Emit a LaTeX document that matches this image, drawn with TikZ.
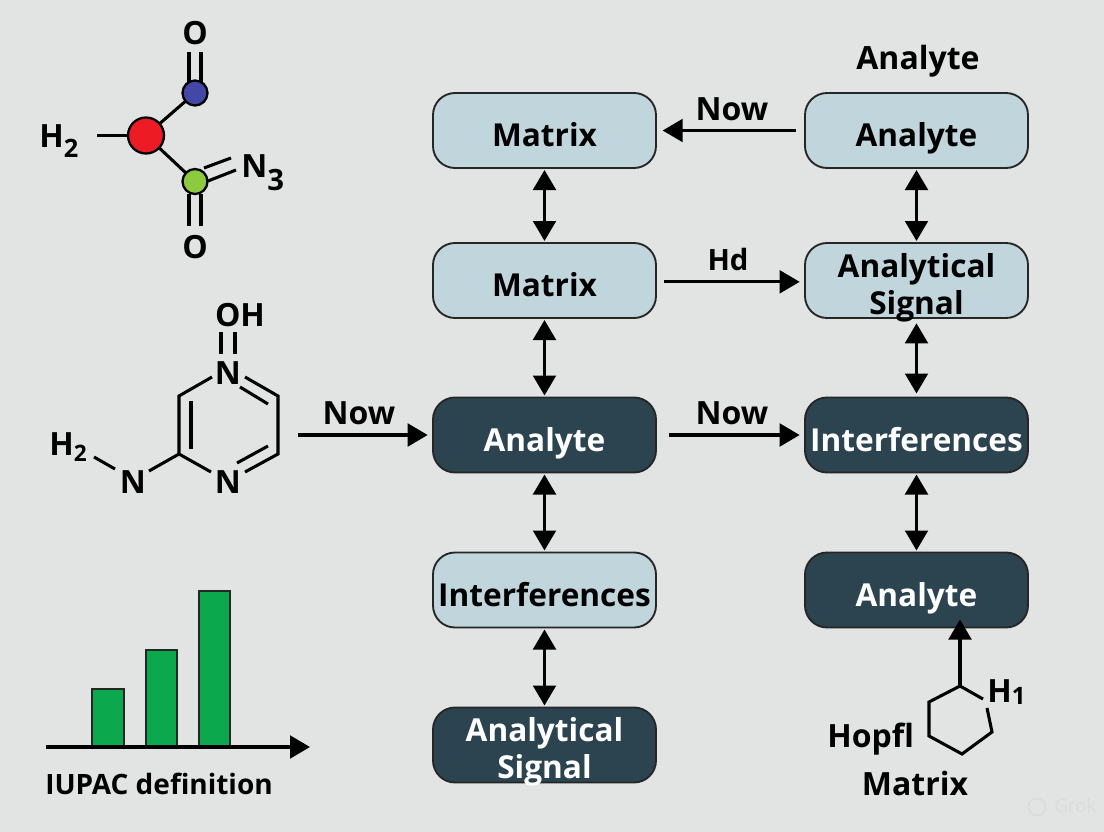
\documentclass[tikz,border=0pt]{standalone}
\usepackage{fontspec}
\setmainfont{Open Sans}[BoldFont={Open Sans Bold}]
\usetikzlibrary{arrows.meta}
\definecolor{bg}{HTML}{E2E4E4}
\definecolor{lightbox}{HTML}{C0D5DC}
\definecolor{darkbox}{HTML}{2B4450}
\definecolor{barg}{HTML}{0CA84E}
\definecolor{atomred}{HTML}{ED1C24}
\definecolor{atomblue}{HTML}{4347A8}
\definecolor{atomgreen}{HTML}{8CCB3E}
\newcommand{\lowline}[1]{\raisebox{-12.2pt}[0pt][0pt]{#1}}
\newcommand{\lowtwo}[2]{\raisebox{2.6pt}[0pt][0pt]{\begin{tabular}[t]{@{}c@{}}#1\\#2\end{tabular}}}
\newcommand{\subdigit}[3]{\raisebox{-#2pt}{\fontsize{#1}{#1}\selectfont #3}}
\tikzset{
 flow/.style={minimum width=167.25pt,minimum height=56.25pt,inner sep=0pt,outer sep=0pt,rounded corners=16.5pt,draw=black!85,line width=1.4pt,font=\fontsize{23.7}{28}\selectfont\bfseries,align=center},
 lightflow/.style={flow,fill=lightbox,text=black},
 darkflow/.style={flow,fill=darkbox,text=white},
 txt/.style={font=\fontsize{24}{28}\selectfont\bfseries,inner sep=0pt,text=black},
 conn/.style={line width=2.4pt,draw=black,-{Triangle[length=15pt,width=17pt]}},
 biconn/.style={line width=2.4pt,draw=black,{Triangle[length=15pt,width=17pt]}-{Triangle[length=15pt,width=17pt]}},
 bond/.style={line width=2.3pt,draw=black},
 atom/.style={circle,draw=black,line width=1.7pt,inner sep=0pt,outer sep=0pt},
 barbox/.style={draw=black!85,fill=barg,line width=1.8pt},
}
\begin{document}
\begin{tikzpicture}[x=0.75pt,y=-0.75pt]
\useasboundingbox (0,0) rectangle (1104,832);
\fill[bg] (0,0) rectangle (1104,832);

% flow boxes
\node[lightflow] (m1) at (544.5,130.5) {\lowline{Matrix}};
\node[lightflow] (m2) at (544.5,280.5) {\lowline{Matrix}};
\node[darkflow]  (m3) at (544.5,435) {\lowline{Analyte}};
\node[lightflow] (m4) at (544.5,590) {\lowline{Interferences}};
\node[darkflow]  (m5) at (544.5,745) {\lowtwo{Analytical}{Signal}};
\node[lightflow] (r1) at (916.5,130.5) {\lowline{Analyte}};
\node[lightflow] (r2) at (916.5,280.5) {\lowtwo{Analytical}{Signal}};
\node[darkflow]  (r3) at (916.5,435) {\lowline{Interferences}};
\node[darkflow]  (r4) at (916.5,590) {\lowline{Analyte}};
\node[txt,anchor=base] (toplabel) at (918,69) {Analyte};

% vertical links
\draw[biconn,shorten <=1.5pt,shorten >=1.5pt] (m1) -- (m2);
\draw[biconn,shorten <=1.5pt,shorten >=1.5pt] (m2) -- (m3);
\draw[biconn,shorten <=1.5pt,shorten >=1.5pt] (m3) -- (m4);
\draw[biconn,shorten <=1.5pt,shorten >=1.5pt] (m4) -- (m5);
\draw[biconn,shorten <=1.5pt,shorten >=1.5pt] (r1) -- (r2);
\draw[biconn,shorten <=4pt,shorten >=3pt] (r2) -- (r3);
\draw[biconn,shorten <=1.5pt,shorten >=1.5pt] (r3) -- (r4);

% horizontal links
\draw[conn,shorten <=7pt,shorten >=5pt] (r1) -- (m1);
\draw[conn,shorten <=6pt,shorten >=4pt] ([yshift=-1pt]m2.east) -- ([yshift=-1pt]r2.west);
\draw[conn,shorten <=10pt,shorten >=4pt] (m3) -- (r3);
\coordinate (pyrout) at (298,435);
\draw[conn,shorten >=4pt] (pyrout) -- (m3);
\node[txt] (lnow1) at (732,109) {Now};
\node[txt,font=\fontsize{22}{24}\selectfont\bfseries,anchor=base] (lhd) at (728,270) {Hd};
\node[txt] (lnow2) at (359,413) {Now};
\node[txt] (lnow3) at (732,413) {Now};

% first molecule
\node[atom,fill=atomred,minimum size=27pt] (ared) at (146,135.5) {};
\node[atom,fill=atomblue,minimum size=18.75pt] (ablue) at (195,93) {};
\node[atom,fill=atomgreen,minimum size=18.75pt] (agreen) at (195,181.5) {};
\node[txt,anchor=base west] (h2a) at (39,147) {H\subdigit{19}{7.5}{2}};
\node[txt] (o1) at (195,33) {O};
\node[txt] (o2) at (195,247) {O};
\node[txt,anchor=base west] (n3) at (241,177) {N\subdigit{22}{10}{3}};
\coordinate (h2end) at (97,135.5);
\draw[bond] (h2end) -- (ared);
\draw[bond] (ared) -- (ablue);
\draw[bond] (ared) -- (agreen);
\coordinate (b1) at (189,52); \coordinate (b2) at (189,82);
\coordinate (b3) at (201,52); \coordinate (b4) at (201,82);
\draw[bond] (b1) -- (b2) (b3) -- (b4);
\coordinate (g1) at (189,194); \coordinate (g2) at (189,226);
\coordinate (g3) at (201,194); \coordinate (g4) at (201,226);
\draw[bond] (g1) -- (g2) (g3) -- (g4);
\coordinate (n1) at (204,168); \coordinate (n2) at (231,158);
\coordinate (n4) at (208,181); \coordinate (n5) at (236,170);
\draw[bond] (n1) -- (n2) (n4) -- (n5);

% second molecule
\node[txt] (oh) at (240,315) {OH};
\node[txt] (ntop) at (228,373) {N};
\node[txt] (nbot) at (228,482) {N};
\node[txt] (nleft) at (133,482) {N};
\node[txt,anchor=base west] (h2b) at (49,455) {H\subdigit{17}{4.5}{2}};
\coordinate (lt) at (179,396); \coordinate (lb) at (179,454);
\coordinate (rt) at (278,396); \coordinate (rb) at (278,454);
\coordinate (p1) at (212,377); \coordinate (p2) at (245,377);
\coordinate (p3) at (211,472); \coordinate (p4) at (245,472);
\draw[bond] (p1) -- (lt) -- (lb) -- (p3);
\draw[bond] (p2) -- (rt) -- (rb) -- (p4);
\coordinate (i1) at (191,401); \coordinate (i2) at (191,449);
\draw[bond] (i1) -- (i2);
\coordinate (i3) at (240,387); \coordinate (i4) at (268,404);
\draw[bond] (i3) -- (i4);
\coordinate (i5) at (237,463); \coordinate (i6) at (268,446);
\draw[bond] (i5) -- (i6);
\coordinate (q1) at (221,332); \coordinate (q2) at (221,354);
\coordinate (q3) at (235,332); \coordinate (q4) at (235,354);
\draw[bond] (q1) -- (q2) (q3) -- (q4);
\coordinate (s1) at (149,471);
\draw[bond] (s1) -- (lb);
\coordinate (s2) at (94,457); \coordinate (s3) at (115,469);
\draw[bond] (s2) -- (s3);

% bar chart
\draw[barbox] (92,747) rectangle (124,689);
\draw[barbox] (146,747) rectangle (177,650);
\draw[barbox] (199,747) rectangle (230,591);
\coordinate (axs) at (46,747); \coordinate (axe) at (310,747);
\draw[conn] (axs) -- (axe);
\node[txt,font=\fontsize{21}{24}\selectfont\bfseries,anchor=base west] (iupac) at (45,794) {IUPAC definition};

% lower-right ring
\coordinate (h1) at (960,686); \coordinate (h2) at (983,699);
\coordinate (h3) at (987,708); \coordinate (h4) at (992,732);
\coordinate (h5) at (962,754); \coordinate (h6) at (929,736);
\coordinate (h7) at (929,702);
\draw[bond] (h2) -- (h1) -- (h7) -- (h6) -- (h5) -- (h4) -- (h3);
\draw[conn,shorten >=-6pt] (h1) -- (h1 |- r4.south);
\node[txt,anchor=base west] (h1lab) at (987,702) {H\subdigit{18}{2}{1}};
\node[txt,anchor=base west] (hopfl) at (827,747) {Hopfl};
\node[txt,anchor=base] (matlab) at (915,795) {Matrix};

% watermark
\node[txt,font=\fontsize{14}{16}\selectfont,text=black!14,anchor=base west] (grok) at (1054,812) {Grok};
\draw[black!14,line width=1.2pt] (1037,807) circle (8.5);
\end{tikzpicture}
\end{document}
